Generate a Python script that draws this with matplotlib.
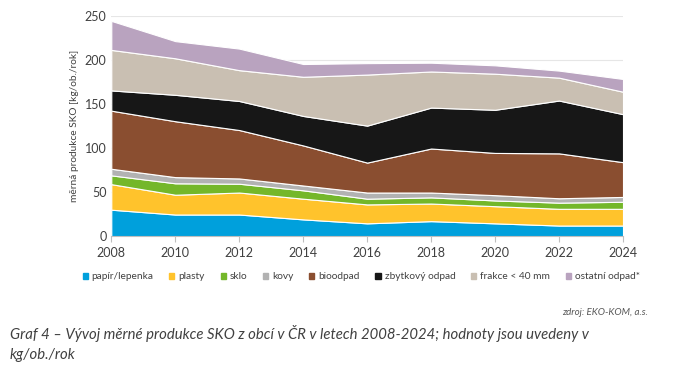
import matplotlib
matplotlib.use("Agg")
import matplotlib.pyplot as plt
from matplotlib.patches import Patch

years = [2008, 2010, 2012, 2014, 2016, 2018, 2020, 2022, 2024]
labels = ["papír/lepenka", "plasty", "sklo", "kovy", "bioodpad",
          "zbytkový odpad", "frakce < 40 mm", "ostatní odpad*"]
papir = [30, 24.5, 24.5, 19, 14.5, 17, 14.5, 12, 12]
plasty = [29, 22.5, 25, 23.5, 21.5, 20, 19.5, 19, 19]
sklo = [10, 13, 10, 9.5, 6.5, 7, 6.5, 7, 8]
kovy = [7.5, 7, 6, 5.5, 7, 5.5, 6, 5, 5.5]
bioodpad = [66, 63.5, 55, 45.5, 34, 50, 48, 51, 39.5]
zbytkovy = [23, 30, 33, 33.5, 42, 46.5, 49, 60, 54.5]
frakce = [46, 41.5, 35, 44.5, 58, 41, 41, 26, 25.5]
ostatni = [33, 19.5, 24.5, 14.5, 13, 10, 9.5, 8, 14.5]
colors = ["#00a0dc", "#ffc32c", "#74b72a", "#b2b2b2", "#8a4e30",
          "#171717", "#c9bfb2", "#b9a3bf"]

plt.rcParams["font.family"] = ["Lato", "DejaVu Sans"]

fig = plt.figure(figsize=(7, 3.73), dpi=100)
ax = fig.add_axes([0.159, 0.367, 0.731, 0.59])

ax.stackplot(years, papir, plasty, sklo, kovy, bioodpad, zbytkovy, frakce,
             ostatni, colors=colors, edgecolor="white", linewidth=0.8,
             zorder=2)

ax.set_xlim(2008, 2024)
ax.set_ylim(0, 250)
ax.set_xticks(years)
ax.set_yticks(range(0, 251, 50))
ax.grid(axis="y", color="#e6e6e6", linewidth=0.8, zorder=0)
for s in ["top", "right", "left"]:
    ax.spines[s].set_visible(False)
ax.spines["bottom"].set_color("#bfbfbf")
ax.tick_params(axis="y", length=0, labelsize=9, colors="#404040")
ax.tick_params(axis="x", length=4, color="#bfbfbf", labelsize=9,
               colors="#404040")
ax.set_ylabel("měrná produkce SKO [kg/ob./rok]", fontsize=7.3,
              color="#404040")

handles = [Patch(color=c, label=l) for c, l in zip(colors, labels)]
fig.legend(handles=handles, loc="center", bbox_to_anchor=(0.516, 0.258),
           ncol=8, frameon=False, fontsize=7.3, handlelength=0.5,
           handleheight=0.5, handletextpad=0.4, columnspacing=1.55,
           labelcolor="#404040")

fig.text(0.926, 0.163, "zdroj: EKO-KOM, a.s.", ha="right", va="center",
         fontsize=7, style="italic", color="#595959")
fig.text(0.014, 0.105,
         "Graf 4 – Vývoj měrné produkce SKO z obcí v ČR v letech 2008-2024; "
         "hodnoty jsou uvedeny v", ha="left", va="center", fontsize=10.7,
         style="italic", color="#404040")
fig.text(0.014, 0.048, "kg/ob./rok", ha="left", va="center", fontsize=10.7,
         style="italic", color="#404040")

fig.savefig("out.png", dpi=100)
